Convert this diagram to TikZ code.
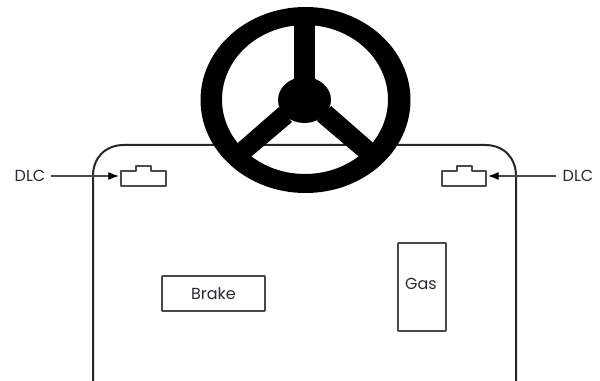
\documentclass[tikz,border=0pt]{standalone}
\usepackage{fontspec}
\setmainfont{Poppins}
\usetikzlibrary{arrows.meta}
\definecolor{boxc}{HTML}{4A4A4A}
\definecolor{txt}{HTML}{2A2A30}
\tikzset{
  x=0.75pt,y=-0.75pt,
  pedal/.style={draw=boxc,line width=1.3pt,rounded corners=0.5pt,inner sep=0pt,text=txt,font=\fontsize{12}{14}\selectfont},
  lab/.style={text=txt,inner sep=0pt,font=\fontsize{12}{14}\selectfont},
  port/.style={draw=none,inner sep=0pt,minimum width=33.75pt,minimum height=15pt},
  portline/.style={draw=boxc,line width=1pt,line join=round},
  lead/.style={draw=boxc,line width=0.9pt,-{Latex[length=8pt,width=6pt,black]}},
}
\begin{document}
\begin{tikzpicture}
\useasboundingbox (0,0) rectangle (600,381);
\fill[white] (0,0) rectangle (600,381);
% body
\draw[draw=black!85,line width=1.5pt] (93,381) -- (93,176) .. controls (93,158) and (105,145) .. (124,145) -- (485,145) .. controls (504,145) and (516,158) .. (516,176) -- (516,381);
% wheel
\fill[black,even odd rule] (305.5,100) ellipse [x radius=105,y radius=93] (305,99.5) ellipse [x radius=83,y radius=74.5];
\fill[black] (304.5,100) ellipse [x radius=26.5,y radius=23];
\fill[black] (294,15) rectangle (315,90);
\fill[black] (279,107) -- (232,148) -- (246,161) -- (292,122) -- cycle;
\fill[black] (331,106) -- (379,148) -- (364,161) -- (317,121) -- cycle;
% pedals
\node[pedal,minimum width=77.25pt,minimum height=26.25pt] (brake) at (213.5,293.5) {Brake};
\node[pedal,minimum width=36pt,minimum height=66pt] (gas) at (422,287) {};
\node[lab] (gaslab) at (421,284) {Gas};
% ports
\node[port] (pl) at (143.5,178.5) {};
\node[port] (pr) at (464,178.5) {};
\draw[portline] (121,171) -- (136,171) -- (136,166) -- (151,166) -- (151,171) -- (166,171) -- (166,186) -- (121,186) -- cycle;
\draw[portline] (442,171) -- (457,171) -- (457,166) -- (472,166) -- (472,171) -- (486,171) -- (486,186) -- (442,186) -- cycle;
% labels
\node[lab] (dl) at (30,175.5) {DLC};
\node[lab] (dr) at (578,175.5) {DLC};
\coordinate (al) at (119,176);
\coordinate (ar) at (488,176);
\draw[lead] (dl.east |- al) ++(5,0) -- (al);
\draw[lead] (dr.west |- ar) ++(-6,0) -- (ar);
\end{tikzpicture}
\end{document}
